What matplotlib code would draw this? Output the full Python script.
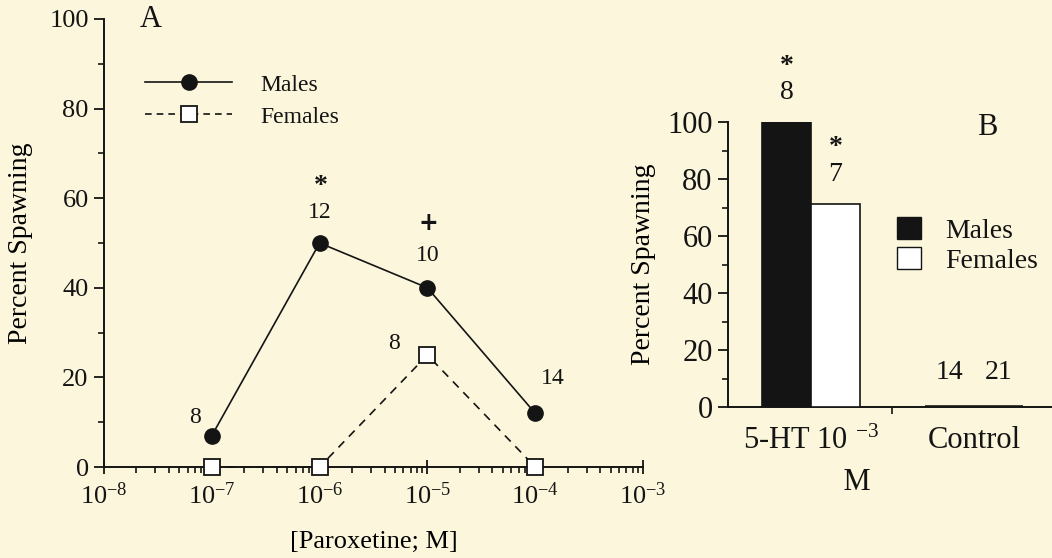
import matplotlib
matplotlib.use('Agg')
import matplotlib.pyplot as plt
import numpy as np
from matplotlib.ticker import LogLocator, MultipleLocator, NullFormatter
from matplotlib.patches import Patch
from matplotlib.lines import Line2D

# panel A: dose response to paroxetine
conc = [1e-7, 1e-6, 1e-5, 1e-4]
males_a = [7, 50, 40, 12]
females_a = [0, 0, 25, 0]
n_males_a = ['8', '12', '10', '14']
n_females_a = ['', '', '8', '']
sig_males_a = ['', '*', '+', '']

# panel B: 5-HT vs control
groups = ['5-HT 10 $^{-3}$\n            M', 'Control']
males_b = [100, 0]
females_b = [71.4, 0]
n_males_b = ['8', '14']
n_females_b = ['7', '21']
sig_males_b = ['*', '']
sig_females_b = ['*', '']

bg = '#fcf7dc'
ink = '#141414'

plt.rcParams['font.family'] = ['Liberation Serif', 'DejaVu Serif']
plt.rcParams['mathtext.fontset'] = 'custom'
plt.rcParams['mathtext.rm'] = 'Liberation Serif'
plt.rcParams['mathtext.it'] = 'Liberation Serif:italic'
plt.rcParams['axes.unicode_minus'] = False
plt.rcParams['text.color'] = ink
plt.rcParams['axes.edgecolor'] = ink
plt.rcParams['xtick.color'] = ink
plt.rcParams['ytick.color'] = ink

W, H = 1052, 558
fig = plt.figure(figsize=(W / 100, H / 100), dpi=100, facecolor=bg)


def sig_text(axis, s, xy, off):
    # star / plus markers above the n labels
    if s == '+':
        kw = dict(family='DejaVu Sans', fontsize=17, fontweight='bold')
    else:
        kw = dict(fontsize=20, fontweight='bold')
    axis.annotate(s, xy, xytext=off, textcoords='offset points', ha='center',
                  va='center', annotation_clip=False, **kw)


# ---------------- panel A ----------------
ax = fig.add_axes([104 / W, 1 - 467 / H, 539 / W, 448 / H])
ax.set_facecolor(bg)
ax.set_xscale('log')
ax.set_xlim(1e-8, 1e-3)
ax.set_ylim(0, 100)
for s in ['top', 'right']:
    ax.spines[s].set_visible(False)
for s in ['left', 'bottom']:
    ax.spines[s].set_linewidth(1.4)

ax.plot(conc, males_a, '-', color=ink, lw=1.2, marker='o', ms=11,
        mfc=ink, mec=ink, clip_on=False, zorder=3)
ax.plot(conc, females_a, '--', color=ink, lw=1.2, dashes=(5, 4), marker='s', ms=11,
        mfc='white', mec=ink, mew=1.3, clip_on=False, zorder=4)

ax.xaxis.set_major_locator(LogLocator(base=10, numticks=10))
ax.xaxis.set_minor_locator(LogLocator(base=10, subs=np.arange(2, 10), numticks=10))
ax.xaxis.set_minor_formatter(NullFormatter())
ax.yaxis.set_major_locator(MultipleLocator(20))
ax.yaxis.set_minor_locator(MultipleLocator(10))
ax.tick_params(axis='x', which='major', direction='inout', length=10, width=1.3,
               labelsize=19, pad=6)
ax.tick_params(axis='x', which='minor', direction='out', length=4, width=1.2)
ax.tick_params(axis='y', which='major', direction='out', length=7, width=1.3,
               labelsize=19, pad=4)
ax.tick_params(axis='y', which='minor', direction='out', length=4, width=1.2)

ax.set_xlabel('[Paroxetine; M]', fontsize=19, labelpad=16)
ax.set_ylabel('Percent Spawning', fontsize=20)
ax.yaxis.set_label_coords(-0.131, 0.5)
ax.text(0.087, 0.998, 'A', transform=ax.transAxes, fontsize=22,
        ha='center', va='center')

n_off_a = [(-12, 13), (0, 22), (0, 23), (13, 25)]
for x, y, n, sg, off in zip(conc, males_a, n_males_a, sig_males_a, n_off_a):
    ax.annotate(n, (x, y), xytext=off, textcoords='offset points',
                ha='center', va='center', fontsize=17)
    if sg:
        sig_text(ax, sg, (x, y), (off[0] + 1, off[1] + 24 if sg == '+' else off[1] + 19))
for x, y, n in zip(conc, females_a, n_females_a):
    if n:
        ax.annotate(n, (x, y), xytext=(-24, 8), textcoords='offset points',
                    ha='center', va='center', fontsize=17)

leg_a = [Line2D([], [], color=ink, lw=1.2, marker='o', ms=11, mfc=ink, mec=ink),
         Line2D([], [], color=ink, lw=1.2, ls='--', dashes=(4, 3), marker='s', ms=11,
                mfc='white', mec=ink, mew=1.3)]
ax.legend(leg_a, ['Males', 'Females'], loc='upper left',
          bbox_to_anchor=(145 / W, 1 - 74 / H), bbox_transform=fig.transFigure,
          frameon=False, fontsize=17, handlelength=3.7, handletextpad=1.2,
          labelspacing=0.45, borderpad=0, borderaxespad=0, numpoints=1)

# ---------------- panel B ----------------
bx = fig.add_axes([728 / W, 1 - 407 / H, 324 / W, 285 / H])
bx.set_facecolor(bg)
xb = np.arange(len(groups))
bw = 0.3
bx.bar(xb - bw / 2, males_b, bw, color=ink, edgecolor=ink, lw=[1.2, 2.6], zorder=3)
bx.bar(xb + bw / 2, females_b, bw, color='white', edgecolor=ink, lw=[1.2, 2.6], zorder=3)
bx.set_xlim(-0.509, 1.479)
bx.set_ylim(0, 100)
for s in ['top', 'right']:
    bx.spines[s].set_visible(False)
for s in ['left', 'bottom']:
    bx.spines[s].set_linewidth(1.4)

bx.set_xticks(xb)
bx.set_xticklabels(groups, fontsize=22, linespacing=1.55)
bx.set_xticks([0.5], minor=True)
bx.tick_params(axis='x', which='major', length=0, pad=14)
bx.tick_params(axis='x', which='minor', direction='out', length=5, width=1.2)
bx.yaxis.set_major_locator(MultipleLocator(20))
bx.yaxis.set_minor_locator(MultipleLocator(10))
bx.tick_params(axis='y', which='major', direction='out', length=7, width=1.3,
               labelsize=22, pad=4)
bx.tick_params(axis='y', which='minor', direction='out', length=4, width=1.2)
bx.set_ylabel('Percent Spawning', fontsize=20)
bx.yaxis.set_label_coords(-0.222, 0.5)
bx.text(0.80, 0.979, 'B', transform=bx.transAxes, fontsize=22,
        ha='center', va='center')

for xs, vals, ns, sgs in [(xb - bw / 2, males_b, n_males_b, sig_males_b),
                          (xb + bw / 2, females_b, n_females_b, sig_females_b)]:
    for x, y, n, sg in zip(xs, vals, ns, sgs):
        dy = 21 if y > 0 else 25
        bx.annotate(n, (x, y), xytext=(0, dy), textcoords='offset points',
                    ha='center', va='center', fontsize=20, annotation_clip=False)
        if sg:
            sig_text(bx, sg, (x, y), (0, dy + 19))

leg_b = [Patch(facecolor=ink, edgecolor=ink), Patch(facecolor='white', edgecolor=ink)]
bx.legend(leg_b, ['Males', 'Females'], loc='upper left',
          bbox_to_anchor=(897 / W, 1 - 217 / H), bbox_transform=fig.transFigure,
          frameon=False, fontsize=20, handlelength=0.85, handleheight=0.85,
          handletextpad=0.9, labelspacing=0.12, borderpad=0, borderaxespad=0)

fig.savefig('out.png', dpi=100, facecolor=bg)
